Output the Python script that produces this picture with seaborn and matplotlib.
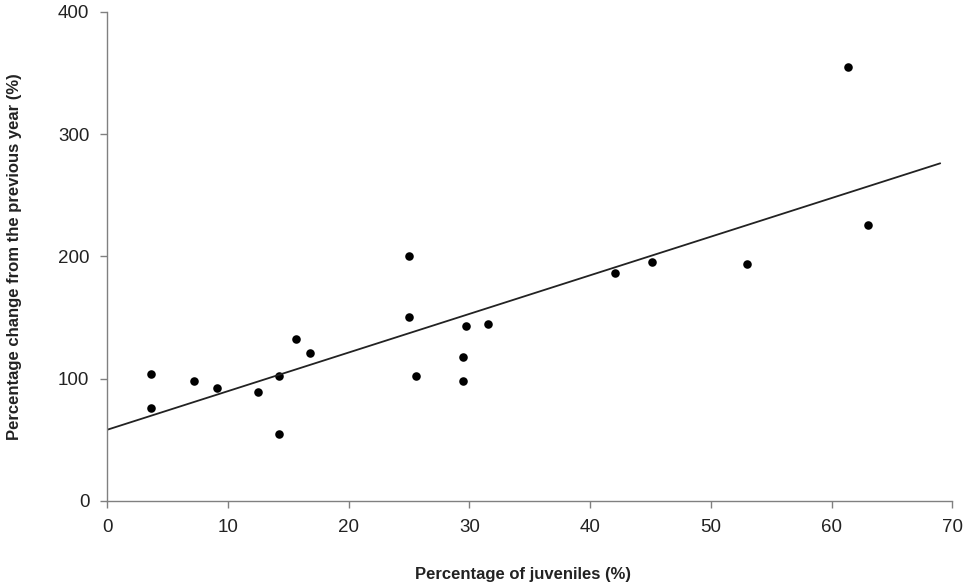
import numpy as np
import pandas as pd
import matplotlib
matplotlib.use("Agg")
import matplotlib.pyplot as plt
import seaborn as sns

# juveniles (%) vs change from previous year (%)
juveniles = [3.6, 3.65, 7.2, 9.1, 12.5, 14.2, 14.25, 15.6, 16.8,
             25.0, 25.0, 25.55, 29.7, 31.5, 29.5, 29.5,
             42.1, 45.1, 53.0, 61.4, 63.0]
change = [104.0, 76.1, 97.7, 92.0, 88.7, 102.3, 54.6, 132.4, 121.1,
          200.3, 150.1, 102.3, 143.0, 144.4, 117.9, 98.0,
          186.1, 195.1, 194.0, 355.2, 225.7]
line_end = 69  # fitted line drawn up to here

df = pd.DataFrame({"juv": juveniles, "chg": change})

sns.set_style("ticks")
plt.rcParams["font.family"] = ["Liberation Sans", "DejaVu Sans"]

fig = plt.figure(figsize=(9.72, 5.85), dpi=100)
ax = fig.add_axes([0.1104, 0.1441, 0.8693, 0.8354])

ax.set_xlim(0, line_end)
sns.regplot(data=df, x="juv", y="chg", ax=ax, ci=None, truncate=False,
            scatter_kws=dict(s=38, color="black", alpha=1, linewidths=0),
            line_kws=dict(color="#222222", lw=1.3))
ax.set_xlim(0, 70)
ax.set_ylim(0, 400)
ax.set_xticks(range(0, 71, 10))
ax.set_yticks(range(0, 401, 100))

for s in ["top", "right"]:
    ax.spines[s].set_visible(False)
for s in ["left", "bottom"]:
    ax.spines[s].set_color("#808080")
    ax.spines[s].set_linewidth(1.0)
ax.tick_params(axis="both", direction="out", length=5, width=1.0,
               color="#808080", labelsize=13.5, labelcolor="#222222")
ax.tick_params(axis="x", pad=8)
ax.tick_params(axis="y", pad=8)

ax.set_xlabel("Percentage of juveniles (%)", fontsize=12, fontweight="bold",
              color="#222222")
ax.set_ylabel("Percentage change from the previous year (%)", fontsize=12,
              fontweight="bold", color="#222222")
ax.xaxis.set_label_coords(0.4925, -0.135)
ax.yaxis.set_label_coords(-0.101, 0.5)

fig.savefig("out.png", dpi=100)
